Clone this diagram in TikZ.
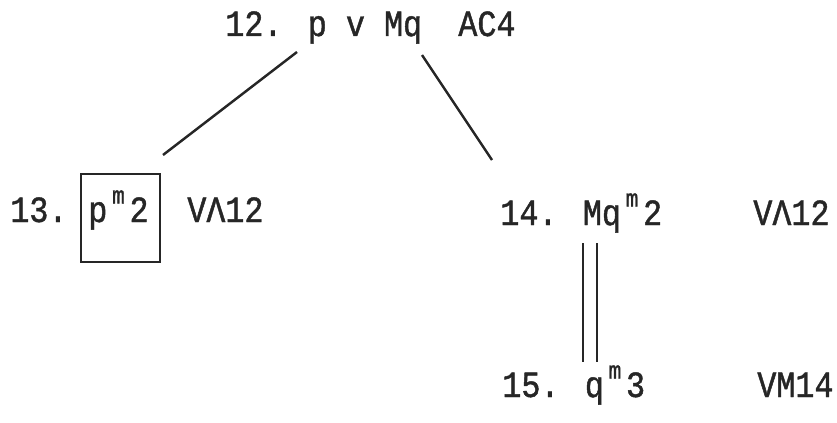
\documentclass[tikz,border=0pt]{standalone}
\usepackage{fontspec}
\newfontfamily\typew[FakeBold=1.2, FakeStretch=0.86]{Liberation Mono}
\newcommand{\supm}{\makebox[0.6em][c]{\raisebox{0.5em}{\fontsize{14}{14}\selectfont m}}}
\begin{document}
\begin{tikzpicture}[x=0.02cm, y=-0.02cm,
    entry/.style={anchor=base west, inner sep=0pt, text=black!85,
        font=\typew\fontsize{21}{21}\selectfont},
    branch/.style={line width=1.4pt, black!85},
  ]
    \useasboundingbox (0,0) rectangle (837,422);

    % Line 12
    \node[entry] (n12) at (225,36) {12. p v Mq};
    \node[entry] (r12) at (458,36) {AC4};

    % Left branch: line 13, closed
    \node[entry] (n13) at (10,222) {13.};
    \node[entry] (f13) at (88,222) {p\supm2};
    \node[entry] (r13) at (187,222) {VΛ12};
    \node[draw, branch, inner sep=0pt, minimum width=1.58cm, minimum height=1.76cm,
        anchor=north west] (close13) at (80,173) {};

    % Right branch: lines 14 and 15
    \node[entry] (n14) at (500,225) {14. Mq\supm2};
    \node[entry] (r14) at (753,225) {VΛ12};
    \node[entry] (n15) at (502,397) {15. q\supm3};
    \node[entry] (r15) at (757,397) {VM14};

    % Branch lines
    \coordinate (lefttop) at (297,52);
    \coordinate (leftend) at (163,155);
    \coordinate (righttop) at (422,55);
    \coordinate (rightend) at (492,160);
    \draw[branch] (lefttop) -- (leftend);
    \draw[branch] (righttop) -- (rightend);

    % Double line between 14 and 15
    \coordinate (dtop) at (590,243);
    \coordinate (dend) at (590,362);
    \draw[branch, double=white, double distance=0.24cm] (dtop) -- (dend);

\end{tikzpicture}
\end{document}
